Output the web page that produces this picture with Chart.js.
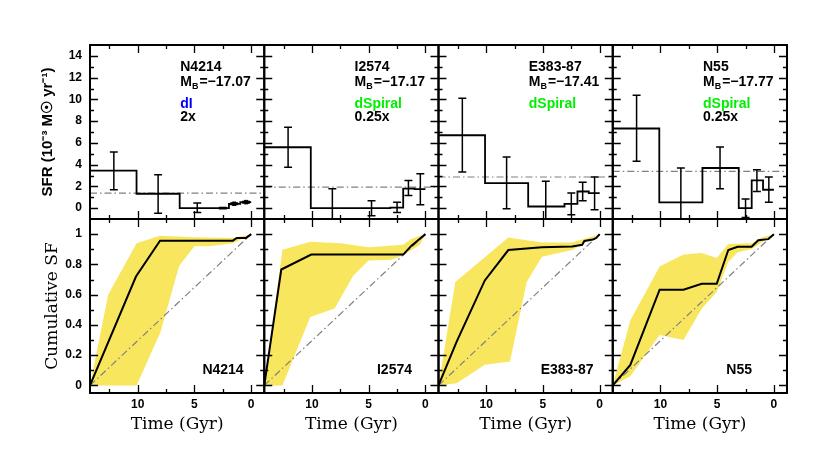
<!DOCTYPE html>
<html>
<head>
<meta charset="utf-8">
<script src="https://cdn.jsdelivr.net/npm/chart.js@4"></script>
<style>
  html, body { margin: 0; padding: 0; background: #fff; }
  canvas { display: block; }
</style>
</head>
<body>
<canvas id="chart" width="830" height="469"></canvas>
<script>
// galaxies, one column each
var galaxies = ['N4214', 'I2574', 'E383-87', 'N55'];
var absMagB = ['-17.07', '-17.17', '-17.41', '-17.77'];
var morphTypes = ['dI', 'dSpiral', 'dSpiral', 'dSpiral'];
var sfrScaleNotes = ['2x', '0.25x', '', '0.25x'];

// labelled ticks
var timeTicks = [10, 5, 0];
var sfrTicks = [0, 2, 4, 6, 8, 10, 12, 14];
var cumTicks = [0, 0.2, 0.4, 0.6, 0.8, 1];

// SFR histograms (10^-3 Msun/yr), bins in Gyr ago
var binEdges = [14.2, 10.1, 6.3, 3.1, 1.96, 0.96, 0];
var sfrN4214 = [3.44, 1.32, 0, 0, 0.4, 0.55];
var sfrI2574 = [5.6, 0, 0, 0.05, 1.8, 1.75];
var sfrE38387 = [6.7, 2.3, 0.15, 0.4, 1.53, 1.38];
var sfrN55 = [7.32, 0.52, 3.69, 0, 2.55, 1.69];

// error bars
var errTime = [12.1, 8.2, 4.75, 2.5, 1.5, 0.45];
var errLoN4214 = [1.69, -0.46, -0.4, -0.05, 0.33, 0.48];
var errHiN4214 = [5.17, 3.07, 0.46, 0.05, 0.47, 0.62];
var errLoI2574 = [3.75, -1.2, -0.71, -0.4, 1.16, 0.3];
var errHiI2574 = [7.44, 1.78, 0.67, 0.55, 2.55, 3.17];
var errLoE38387 = [3.32, -0.06, -1.2, -0.62, 0.67, -0.16];
var errHiE38387 = [10.1, 4.7, 2.46, 1.38, 2.37, 2.86];
var errLoN55 = [4.3, -1.2, 1.78, -0.87, 1.53, 0.55];
var errHiN55 = [10.37, 3.69, 5.63, 0.83, 3.54, 2.86];

// lifetime average SFR
var meanSfr = [1.38, 1.94, 2.86, 3.38];

// cumulative SF: best fit
var cumTimeN4214 = [14.2, 10.15, 8.03, 1.62, 1.27, 0.44, 0];
var cumN4214 = [0, 0.72, 0.957, 0.957, 0.975, 0.975, 1];
var cumTimeI2574 = [14.2, 12.7, 10.06, 1.96, 1.23, 0.65, 0];
var cumI2574 = [0, 0.766, 0.865, 0.865, 0.924, 0.96, 1];
var cumTimeE38387 = [14.2, 12.6, 10.12, 8.05, 5.09, 2.43, 1.54, 1.35, 0.6, 0.3, 0];
var cumE38387 = [0, 0.29, 0.694, 0.895, 0.913, 0.919, 0.93, 0.955, 0.965, 0.975, 1];
var cumTimeN55 = [14.2, 12.65, 10.07, 7.97, 6.36, 5.04, 4.02, 3.2, 1.97, 1.38, 0.5, 0];
var cumN55 = [0, 0.136, 0.633, 0.633, 0.672, 0.672, 0.895, 0.917, 0.917, 0.96, 0.967, 1];

// cumulative SF: uncertainty envelope
var hiTimeN4214 = [14.2, 12.6, 10.1, 8.05, 5.0, 1.6, 0];
var hiN4214 = [0, 0.6, 0.94, 0.99, 0.98, 0.975, 1];
var loTimeN4214 = [14.2, 10.1, 8.0, 6.35, 5.0, 3.7, 1.6, 0];
var loN4214 = [0, 0, 0.35, 0.79, 0.92, 0.92, 0.94, 1];
var hiTimeI2574 = [14.2, 12.6, 10.15, 7.5, 5.0, 1.96, 1.23, 0];
var hiI2574 = [0, 0.897, 0.95, 0.94, 0.913, 0.93, 0.97, 1];
var loTimeI2574 = [14.2, 12.6, 10.15, 8.0, 6.35, 5.0, 3.0, 1.96, 0.5, 0];
var loI2574 = [0, 0, 0.453, 0.508, 0.727, 0.825, 0.83, 0.86, 0.93, 1];
var hiTimeE38387 = [14.2, 12.72, 8.05, 5.1, 2.43, 0];
var hiE38387 = [0, 0.683, 0.978, 0.945, 0.945, 1];
var loTimeE38387 = [14.2, 12.6, 10.12, 7.9, 6.43, 5.09, 2.43, 0];
var loE38387 = [0, 0.015, 0.136, 0.158, 0.683, 0.851, 0.895, 1];
var hiTimeN55 = [14.2, 12.65, 10.07, 7.97, 6.36, 5.04, 4.02, 1.97, 1.08, 0];
var hiN55 = [0, 0.43, 0.786, 0.865, 0.876, 0.843, 0.935, 0.94, 0.977, 1];
var loTimeN55 = [14.2, 12.65, 10.07, 7.97, 6.36, 5.04, 4.02, 3.2, 1.97, 1.0, 0];
var loN55 = [0, 0.06, 0.333, 0.3, 0.508, 0.617, 0.815, 0.88, 0.9, 0.95, 1];

var sfrLevels = [sfrN4214, sfrI2574, sfrE38387, sfrN55];
var errLo = [errLoN4214, errLoI2574, errLoE38387, errLoN55];
var errHi = [errHiN4214, errHiI2574, errHiE38387, errHiN55];
var cumTime = [cumTimeN4214, cumTimeI2574, cumTimeE38387, cumTimeN55];
var cumFrac = [cumN4214, cumI2574, cumE38387, cumN55];
var hiTime = [hiTimeN4214, hiTimeI2574, hiTimeE38387, hiTimeN55];
var hiFrac = [hiN4214, hiI2574, hiE38387, hiN55];
var loTime = [loTimeN4214, loTimeI2574, loTimeE38387, loTimeN55];
var loFrac = [loN4214, loI2574, loE38387, loN55];

var X_MAX = 14.2, X_MIN = -1.15;
var YELLOW = '#f9e65f';
var GREY = '#808080';
var SANS = '"Liberation Sans", Arial, sans-serif';
var SERIF = '"DejaVu Serif", serif';

// where the panel texts sit (data units)
var topTextTime = 6.25;
var topTextRows = [12.95, 11.55, 9.6, 8.4];
var bottomTextTime = [4.3, 4.27, 5.2, 4.2];
var bottomTextFrac = 0.103;

function pts(ts, vs) {
  return ts.map(function (t, i) { return {x: t, y: vs[i]}; });
}

function stepPoints(edges, levels) {
  var p = [];
  levels.forEach(function (v, i) {
    p.push({x: edges[i], y: v});
    p.push({x: edges[i + 1], y: v});
  });
  return p;
}

function errorPoints(ts, lo, hi) {
  var p = [], cap = 0.35;
  ts.forEach(function (t, i) {
    p.push({x: t, y: lo[i]}, {x: t, y: hi[i]}, {x: t, y: null});
    p.push({x: t - cap, y: lo[i]}, {x: t + cap, y: lo[i]}, {x: t, y: null});
    p.push({x: t - cap, y: hi[i]}, {x: t + cap, y: hi[i]}, {x: t, y: null});
  });
  return p;
}

var datasets = [];
galaxies.forEach(function (g, c) {
  var xid = 'x' + (c + 1);
  var band = pts(hiTime[c], hiFrac[c]).concat(pts(loTime[c], loFrac[c]).reverse());
  datasets.push({
    label: g + ' range', xAxisID: xid, yAxisID: 'yBot', data: band,
    fill: 'shape', backgroundColor: YELLOW, borderWidth: 0, pointRadius: 0, order: 5
  });
  datasets.push({
    label: g + ' constant', xAxisID: xid, yAxisID: 'yBot',
    data: [{x: X_MAX, y: 0}, {x: 0, y: 1}],
    borderColor: GREY, borderWidth: 1.2, borderDash: [7, 3, 1.5, 3], pointRadius: 0, fill: false, order: 4
  });
  datasets.push({
    label: g + ' cumulative', xAxisID: xid, yAxisID: 'yBot', data: pts(cumTime[c], cumFrac[c]),
    borderColor: '#000', borderWidth: 2, pointRadius: 0, fill: false, order: 1
  });
  datasets.push({
    label: g + ' mean', xAxisID: xid, yAxisID: 'yTop',
    data: [{x: X_MAX, y: meanSfr[c]}, {x: X_MIN, y: meanSfr[c]}],
    borderColor: GREY, borderWidth: 1.2, borderDash: [7, 3, 1.5, 3], pointRadius: 0, fill: false, order: 4
  });
  datasets.push({
    label: g + ' sfr', xAxisID: xid, yAxisID: 'yTop', data: stepPoints(binEdges, sfrLevels[c]),
    borderColor: '#000', borderWidth: 1.8, pointRadius: 0, fill: false, order: 2
  });
  datasets.push({
    label: g + ' errors', xAxisID: xid, yAxisID: 'yTop', data: errorPoints(errTime, errLo[c], errHi[c]),
    borderColor: '#000', borderWidth: 1.5, pointRadius: 0, fill: false, spanGaps: false, order: 1
  });
  // tiny errors show up as small filled squares
  var small = [];
  errTime.forEach(function (t, i) {
    if (errHi[c][i] - errLo[c][i] < 0.3 && sfrLevels[c][i] > 0.1) small.push({x: t, y: sfrLevels[c][i]});
  });
  if (small.length) {
    datasets.push({
      label: g + ' small', xAxisID: xid, yAxisID: 'yTop', data: small, showLine: false,
      pointStyle: 'rect', pointRadius: 2.5, backgroundColor: '#000', borderColor: '#000', order: 1
    });
  }
});

var tickFont = {family: SANS, size: 12, weight: 'bold'};

function onlyListed(list) {
  return function (v) { return list.indexOf(v) >= 0 ? String(v) : ''; };
}

var scales = {
  yBot: {
    type: 'linear', axis: 'y', position: 'left', stack: 'rows', weight: 1,
    min: -0.05, max: 1.1,
    grid: {display: false, drawTicks: false}, border: {display: false},
    ticks: {stepSize: 0.1, includeBounds: false, autoSkip: false, padding: 8, color: '#000',
      font: tickFont, callback: onlyListed(cumTicks)},
    title: {display: true, text: 'Cumulative SF', color: '#000',
      font: {family: SERIF, size: 17}, padding: {top: 42}},
    afterFit: function (s) { s.width = 90; }
  },
  yTop: {
    type: 'linear', axis: 'y', position: 'left', stack: 'rows', weight: 2,
    min: -1, max: 15,
    grid: {display: false, drawTicks: false}, border: {display: false},
    ticks: {stepSize: 1, includeBounds: false, autoSkip: false, padding: 8, color: '#000',
      font: tickFont, callback: onlyListed(sfrTicks)},
    title: {display: true, text: 'SFR (10\u207B\u00B3 M\u2609 yr\u207B\u00B9)', color: '#000',
      font: {family: SANS, size: 15, weight: 'bold'}, padding: {top: 39}},
    afterFit: function (s) { s.width = 90; }
  }
};
galaxies.forEach(function (g, c) {
  scales['x' + (c + 1)] = {
    type: 'linear', axis: 'x', position: 'bottom', stack: 'cols', weight: c + 1,
    reverse: true, min: X_MIN, max: X_MAX,
    grid: {display: false, drawTicks: false}, border: {display: false},
    ticks: {stepSize: 2.5, includeBounds: false, autoSkip: false, maxRotation: 0, padding: 4,
      color: '#000', font: tickFont, callback: onlyListed(timeTicks)},
    title: {display: true, text: 'Time (Gyr)', color: '#000',
      font: {family: SERIF, size: 17}, padding: {bottom: 34}},
    afterFit: function (s) { s.height = 76; }
  };
});

// panel borders with inward ticks on every side
var panelFrame = {
  id: 'panelFrame',
  afterDatasetsDraw: function (chart) {
    var ctx = chart.ctx;
    ctx.save();
    ctx.strokeStyle = '#000';
    ['yTop', 'yBot'].forEach(function (yid) {
      var ys = chart.scales[yid];
      galaxies.forEach(function (g, c) {
        var xs = chart.scales['x' + (c + 1)];
        var l = xs.left, r = xs.right, t = ys.top, b = ys.bottom;
        ctx.lineWidth = 1.3;
        ctx.beginPath();
        xs.ticks.forEach(function (tk) {
          var px = Math.round(xs.getPixelForValue(tk.value)) + 0.5;
          var len = tk.label ? 8 : 4;
          ctx.moveTo(px, b); ctx.lineTo(px, b - len);
          ctx.moveTo(px, t); ctx.lineTo(px, t + len);
        });
        ys.ticks.forEach(function (tk) {
          var py = Math.round(ys.getPixelForValue(tk.value)) + 0.5;
          if (py <= t + 1 || py >= b - 1) return;
          var len = tk.label ? 8 : 4;
          ctx.moveTo(l, py); ctx.lineTo(l + len, py);
          ctx.moveTo(r, py); ctx.lineTo(r - len, py);
        });
        ctx.stroke();
        ctx.lineWidth = 2;
        ctx.strokeRect(l, t, r - l, b - t);
      });
    });
    ctx.restore();
  }
};

// galaxy names, magnitudes and types
var panelText = {
  id: 'panelText',
  afterDatasetsDraw: function (chart) {
    var ctx = chart.ctx, yt = chart.scales.yTop, yb = chart.scales.yBot;
    ctx.save();
    ctx.textBaseline = 'middle';
    ctx.textAlign = 'left';
    galaxies.forEach(function (g, c) {
      var xs = chart.scales['x' + (c + 1)];
      var x = xs.getPixelForValue(topTextTime);
      var big = 'bold 14px ' + SANS;
      ctx.fillStyle = '#000';
      ctx.font = big;
      ctx.fillText(g, x, yt.getPixelForValue(topTextRows[0]));
      var y1 = yt.getPixelForValue(topTextRows[1]);
      ctx.fillText('M', x, y1);
      var w = ctx.measureText('M').width;
      ctx.font = 'bold 9px ' + SANS;
      ctx.fillText('B', x + w, y1 + 4);
      var w2 = ctx.measureText('B').width;
      ctx.font = big;
      ctx.fillText('=\u2212' + absMagB[c].slice(1), x + w + w2 + 1, y1);
      ctx.fillStyle = morphTypes[c] === 'dI' ? '#0000ff' : '#00ee00';
      ctx.fillText(morphTypes[c], x, yt.getPixelForValue(topTextRows[2]));
      ctx.fillStyle = '#000';
      if (sfrScaleNotes[c]) ctx.fillText(sfrScaleNotes[c], x, yt.getPixelForValue(topTextRows[3]));
      ctx.fillText(g, xs.getPixelForValue(bottomTextTime[c]), yb.getPixelForValue(bottomTextFrac));
    });
    ctx.restore();
  }
};

new Chart(document.getElementById('chart'), {
  type: 'line',
  data: {datasets: datasets},
  options: {
    responsive: false,
    animation: false,
    devicePixelRatio: 1,
    layout: {padding: {left: 0, top: 45, right: 43, bottom: 0}},
    plugins: {legend: {display: false}, tooltip: {enabled: false}},
    elements: {line: {tension: 0}},
    scales: scales
  },
  plugins: [panelFrame, panelText]
});
</script>
</body>
</html>
